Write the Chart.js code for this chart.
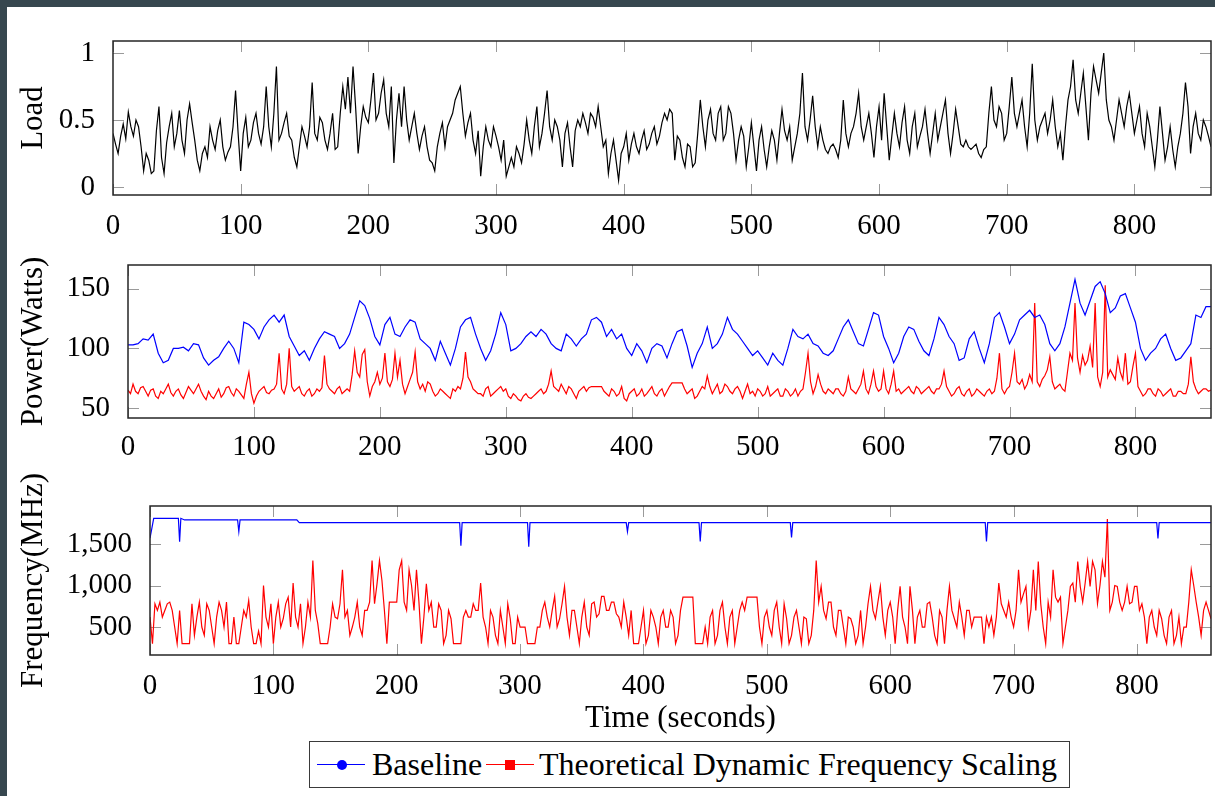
<!DOCTYPE html>
<html>
<head>
<meta charset="utf-8">
<title>Load, power and frequency</title>
<script src="https://cdn.jsdelivr.net/npm/chart.js@4.4.1/dist/chart.umd.min.js"></script>
<style>
    html, body {
        margin: 0;
        padding: 0;
    }

    body {
        width: 1215px;
        height: 796px;
        position: relative;
        overflow: hidden;
        background: #37474f;
        font-family: "Liberation Serif", "Times New Roman", serif;
    }

    #sheet {
        position: absolute;
        left: 7px;
        top: 7px;
        right: 0;
        bottom: 0;
        background: #ffffff;
    }

    canvas {
        position: absolute;
        left: 0;
    }

    #legend {
        position: absolute;
        left: 309px;
        top: 741px;
        width: 759px;
        height: 45px;
        border: 1.5px solid #3a3a3a;
        background: #ffffff;
        color: #000;
        font-size: 32px;
    }

    #legend .line {
        position: absolute;
        top: 22px;
        height: 1.4px;
    }

    #legend .dot {
        position: absolute;
        top: 18px;
        width: 10px;
        height: 10px;
        border-radius: 50%;
        background: #0000ff;
    }

    #legend .square {
        position: absolute;
        top: 18px;
        width: 10px;
        height: 10px;
        background: #ff0000;
    }

    #legend .label {
        position: absolute;
        top: 0;
        line-height: 45px;
        white-space: nowrap;
    }
</style>
</head>
<body>

<div id="sheet"></div>

<canvas id="loadChart" width="1215" height="244" style="top:1px;width:1215px;height:244px"></canvas>
<canvas id="powerChart" width="1215" height="243" style="top:225px;width:1215px;height:243px"></canvas>
<canvas id="frequencyChart" width="1215" height="274" style="top:466px;width:1215px;height:274px"></canvas>

<div id="legend">
    <span class="line" style="left:7px;width:48px;background:#0000ff"></span>
    <span class="dot" style="left:27px"></span>
    <span class="label" style="left:62px">Baseline</span>
    <span class="line" style="left:176px;width:48px;background:#ff0000"></span>
    <span class="square" style="left:195px"></span>
    <span class="label" style="left:229px">Theoretical Dynamic Frequency Scaling</span>
</div>

<script>
/* ==========================================
   Data
   noisy series: one sample every 2 s (0 - 860 s)
   baseline power: one sample every 4 s
========================================== */

const FINE_STEP = 2;
const COARSE_STEP = 4;

const X_TICKS = [0, 100, 200, 300, 400, 500, 600, 700, 800];
const LOAD_TICKS = [0, 0.5, 1];
const POWER_TICKS = [50, 100, 150];
const FREQUENCY_TICKS = [500, 1000, 1500];

const LOAD_VALUES = [
    0.40, 0.32, 0.25, 0.38, 0.47, 0.36, 0.56, 0.45, 0.38, 0.50, 0.45, 0.30, 0.12, 0.25, 0.20, 0.10, 0.12, 0.42, 0.60, 0.22,
    0.10, 0.33, 0.45, 0.55, 0.30, 0.40, 0.57, 0.35, 0.25, 0.50, 0.62, 0.48, 0.35, 0.20, 0.12, 0.25, 0.30, 0.22, 0.45, 0.35,
    0.28, 0.42, 0.50, 0.30, 0.20, 0.26, 0.30, 0.45, 0.72, 0.40, 0.12, 0.40, 0.52, 0.30, 0.35, 0.48, 0.55, 0.40, 0.32, 0.45,
    0.75, 0.45, 0.30, 0.55, 0.90, 0.35, 0.40, 0.48, 0.55, 0.38, 0.35, 0.22, 0.15, 0.30, 0.45, 0.38, 0.30, 0.45, 0.78, 0.40,
    0.35, 0.52, 0.48, 0.35, 0.28, 0.40, 0.55, 0.28, 0.30, 0.55, 0.75, 0.58, 0.82, 0.55, 0.90, 0.60, 0.25, 0.45, 0.60, 0.52,
    0.48, 0.65, 0.85, 0.50, 0.55, 0.70, 0.80, 0.55, 0.45, 0.75, 0.18, 0.50, 0.70, 0.45, 0.75, 0.50, 0.35, 0.45, 0.55, 0.40,
    0.28, 0.38, 0.45, 0.30, 0.20, 0.18, 0.12, 0.30, 0.40, 0.48, 0.30, 0.45, 0.50, 0.55, 0.65, 0.70, 0.75, 0.55, 0.38, 0.48,
    0.55, 0.35, 0.25, 0.42, 0.08, 0.30, 0.45, 0.35, 0.30, 0.45, 0.38, 0.30, 0.20, 0.35, 0.08, 0.15, 0.22, 0.15, 0.30, 0.25,
    0.18, 0.32, 0.50, 0.35, 0.25, 0.45, 0.60, 0.30, 0.40, 0.55, 0.72, 0.45, 0.35, 0.50, 0.45, 0.35, 0.15, 0.40, 0.48, 0.30,
    0.15, 0.42, 0.50, 0.45, 0.55, 0.48, 0.40, 0.55, 0.52, 0.45, 0.60, 0.45, 0.30, 0.35, 0.10, 0.25, 0.35, 0.20, 0.05, 0.25,
    0.30, 0.40, 0.20, 0.32, 0.40, 0.30, 0.25, 0.35, 0.42, 0.28, 0.32, 0.40, 0.45, 0.32, 0.38, 0.48, 0.55, 0.50, 0.58, 0.55,
    0.20, 0.38, 0.35, 0.22, 0.15, 0.32, 0.30, 0.15, 0.18, 0.40, 0.65, 0.45, 0.30, 0.50, 0.58, 0.40, 0.35, 0.55, 0.60, 0.35,
    0.40, 0.60, 0.55, 0.40, 0.20, 0.35, 0.45, 0.38, 0.15, 0.30, 0.48, 0.30, 0.12, 0.35, 0.45, 0.28, 0.15, 0.30, 0.42, 0.35,
    0.20, 0.40, 0.58, 0.42, 0.35, 0.45, 0.20, 0.30, 0.40, 0.55, 0.85, 0.45, 0.35, 0.50, 0.68, 0.45, 0.30, 0.45, 0.35, 0.28,
    0.25, 0.30, 0.32, 0.28, 0.22, 0.35, 0.65, 0.40, 0.30, 0.40, 0.45, 0.55, 0.70, 0.45, 0.35, 0.45, 0.55, 0.40, 0.22, 0.45,
    0.60, 0.35, 0.70, 0.45, 0.20, 0.38, 0.55, 0.40, 0.30, 0.48, 0.60, 0.35, 0.25, 0.45, 0.55, 0.30, 0.38, 0.45, 0.58, 0.40,
    0.25, 0.40, 0.55, 0.35, 0.45, 0.55, 0.65, 0.40, 0.25, 0.40, 0.58, 0.45, 0.32, 0.30, 0.35, 0.30, 0.28, 0.30, 0.32, 0.25,
    0.22, 0.28, 0.30, 0.55, 0.75, 0.50, 0.45, 0.60, 0.55, 0.35, 0.40, 0.60, 0.82, 0.55, 0.45, 0.55, 0.65, 0.45, 0.30, 0.55,
    0.92, 0.50, 0.35, 0.45, 0.50, 0.55, 0.40, 0.50, 0.65, 0.45, 0.30, 0.40, 0.20, 0.45, 0.65, 0.75, 0.95, 0.65, 0.55, 0.70,
    0.85, 0.60, 0.35, 0.70, 0.90, 0.80, 0.70, 0.85, 1.00, 0.65, 0.50, 0.45, 0.35, 0.50, 0.65, 0.55, 0.45, 0.60, 0.70, 0.55,
    0.40, 0.50, 0.60, 0.40, 0.30, 0.55, 0.45, 0.30, 0.15, 0.35, 0.60, 0.40, 0.20, 0.30, 0.45, 0.28, 0.15, 0.30, 0.40, 0.55,
    0.78, 0.60, 0.25, 0.45, 0.55, 0.40, 0.35, 0.50, 0.45, 0.38, 0.30
];

const POWER_BASELINE = [
    103, 103, 104, 108, 107, 112, 96, 88, 90, 100,
    100, 101, 98, 104, 103, 92, 86, 90, 93, 100,
    106, 100, 88, 122, 120, 116, 108, 118, 124, 128,
    122, 128, 110, 102, 94, 98, 90, 100, 108, 114,
    112, 110, 100, 104, 112, 126, 140, 136, 125, 110,
    103, 120, 126, 112, 110, 118, 124, 122, 108, 104,
    100, 90, 106, 96, 86, 100, 118, 124, 126, 112,
    100, 90, 98, 112, 130, 120, 98, 100, 104, 110,
    114, 110, 116, 112, 104, 100, 98, 112, 108, 102,
    108, 112, 124, 126, 122, 110, 116, 108, 112, 100,
    94, 104, 98, 88, 100, 104, 102, 92, 104, 114,
    116, 102, 84, 96, 104, 118, 100, 104, 112, 126,
    116, 112, 106, 100, 94, 98, 92, 86, 96, 90,
    86, 100, 116, 110, 108, 112, 104, 102, 96, 94,
    98, 108, 118, 124, 114, 104, 102, 116, 130, 128,
    110, 100, 88, 96, 110, 118, 116, 106, 98, 94,
    108, 126, 120, 110, 104, 90, 92, 108, 114, 100,
    88, 104, 126, 130, 118, 104, 112, 124, 128, 132,
    126, 128, 120, 104, 98, 104, 118, 138, 158, 138,
    128, 140, 152, 156, 146, 130, 134, 144, 146, 134,
    122, 100, 90, 96, 100, 108, 112, 100, 90, 92,
    98, 104, 128, 126, 135, 135
];

const POWER_DFS = [
    65, 62, 70, 64, 62, 67, 68, 64, 60, 65, 66, 60, 58, 64, 62, 66, 70, 63, 60, 64,
    66, 61, 58, 63, 68, 65, 62, 66, 70, 64, 60, 57, 64, 60, 58, 62, 66, 59, 62, 67,
    68, 63, 60, 66, 64, 61, 58, 70, 80, 62, 54, 60, 64, 66, 68, 63, 62, 65, 66, 70,
    96, 66, 62, 70, 100, 68, 64, 66, 68, 62, 60, 64, 66, 60, 62, 66, 64, 67, 94, 70,
    66, 64, 62, 66, 68, 62, 64, 66, 64, 78, 98, 80, 76, 95, 99, 72, 60, 68, 72, 80,
    70, 75, 96, 72, 68, 74, 96, 76, 90, 70, 62, 68, 74, 80, 97, 72, 66, 70, 64, 72,
    70, 64, 60, 62, 66, 64, 62, 60, 58, 66, 64, 68, 66, 75, 97, 76, 72, 66, 64, 62,
    62, 60, 66, 68, 60, 62, 64, 66, 68, 64, 66, 60, 58, 62, 60, 57, 56, 60, 62, 59,
    58, 60, 62, 64, 66, 62, 64, 70, 81, 68, 66, 64, 70, 66, 62, 68, 66, 62, 58, 64,
    66, 68, 64, 67, 68, 68, 68, 68, 68, 64, 62, 60, 66, 64, 60, 62, 68, 58, 56, 62,
    64, 66, 60, 62, 66, 60, 62, 65, 68, 62, 60, 64, 66, 60, 64, 68, 71, 71, 71, 71,
    71, 66, 62, 64, 66, 58, 60, 64, 68, 66, 77, 68, 62, 66, 70, 62, 64, 70, 68, 64,
    62, 66, 68, 64, 58, 64, 70, 62, 64, 60, 66, 64, 60, 62, 68, 60, 62, 64, 66, 60,
    60, 66, 64, 60, 62, 66, 60, 64, 66, 80, 96, 72, 62, 68, 78, 70, 64, 62, 66, 64,
    62, 66, 66, 62, 60, 64, 76, 66, 64, 62, 66, 70, 81, 66, 62, 70, 81, 68, 64, 66,
    81, 66, 62, 70, 81, 64, 66, 62, 64, 66, 68, 64, 62, 68, 66, 62, 64, 66, 68, 64,
    62, 66, 66, 70, 81, 68, 64, 60, 62, 66, 68, 62, 60, 64, 66, 60, 62, 66, 64, 62,
    60, 64, 66, 62, 64, 75, 96, 66, 62, 66, 68, 80, 96, 72, 70, 74, 66, 70, 78, 72,
    138, 72, 68, 74, 77, 82, 93, 72, 66, 68, 70, 66, 64, 80, 96, 90, 138, 92, 80, 94,
    86, 90, 102, 84, 138, 76, 68, 80, 153, 76, 82, 78, 74, 92, 80, 74, 96, 70, 72, 85,
    96, 68, 64, 60, 62, 66, 66, 62, 60, 66, 64, 60, 62, 64, 66, 60, 60, 64, 64, 62,
    62, 70, 93, 72, 66, 62, 64, 66, 66, 64, 65
];

const FREQUENCY_DFS = [
    620, 300, 780, 700, 800, 620, 700, 780, 800, 700, 500, 300, 700, 300, 300, 300, 300, 780, 400, 620,
    800, 500, 400, 780, 700, 500, 300, 620, 800, 700, 500, 800, 300, 300, 620, 300, 300, 500, 700, 620,
    820, 500, 300, 300, 450, 300, 1000, 620, 500, 780, 300, 620, 800, 500, 600, 780, 860, 500, 1030, 620,
    500, 780, 300, 500, 800, 620, 1300, 700, 540, 300, 300, 300, 300, 500, 780, 620, 600, 780, 1190, 620,
    700, 400, 500, 620, 800, 500, 400, 700, 700, 800, 1300, 780, 1020, 1300, 1060, 700, 300, 800, 800, 800,
    800, 1190, 1300, 800, 700, 1190, 1000, 700, 1190, 800, 300, 620, 1020, 700, 800, 500, 500, 780, 700, 300,
    400, 700, 600, 300, 300, 300, 300, 620, 700, 620, 620, 780, 700, 700, 1030, 620, 500, 300, 700, 620,
    400, 300, 700, 500, 300, 780, 600, 300, 300, 620, 500, 500, 500, 300, 300, 300, 300, 500, 500, 700,
    800, 620, 500, 700, 870, 500, 600, 780, 990, 620, 400, 700, 700, 500, 300, 620, 800, 500, 400, 780,
    800, 620, 660, 870, 870, 700, 700, 800, 800, 660, 620, 500, 800, 620, 400, 700, 300, 300, 300, 500,
    700, 300, 400, 700, 620, 500, 300, 620, 700, 500, 500, 700, 620, 300, 400, 700, 860, 860, 860, 860,
    860, 300, 300, 300, 300, 500, 300, 620, 700, 300, 400, 700, 800, 500, 300, 620, 700, 300, 500, 700,
    800, 700, 860, 860, 860, 860, 860, 500, 300, 620, 700, 500, 400, 700, 800, 500, 300, 780, 600, 300,
    400, 620, 700, 500, 300, 620, 600, 300, 400, 700, 1300, 800, 990, 700, 600, 800, 800, 500, 400, 700,
    700, 500, 300, 620, 600, 500, 300, 400, 700, 300, 500, 780, 990, 700, 600, 800, 990, 620, 400, 700,
    800, 620, 300, 700, 990, 620, 500, 300, 990, 700, 300, 620, 700, 500, 500, 780, 800, 620, 400, 300,
    700, 620, 300, 700, 990, 700, 600, 500, 800, 620, 400, 700, 700, 500, 620, 620, 620, 620, 300, 620,
    500, 620, 400, 620, 1030, 780, 700, 620, 800, 620, 500, 700, 1190, 800, 900, 990, 500, 700, 1190, 700,
    1290, 780, 500, 300, 800, 620, 1190, 860, 800, 860, 300, 500, 700, 990, 1030, 800, 1290, 990, 800, 1030,
    1290, 990, 1290, 1190, 780, 1000, 1290, 1100, 1800, 700, 800, 1000, 990, 800, 700, 800, 990, 780, 800, 990,
    990, 700, 780, 620, 300, 620, 700, 500, 400, 700, 600, 400, 300, 620, 700, 300, 400, 620, 300, 500,
    500, 800, 1190, 1000, 800, 620, 400, 700, 800, 700, 600
];

// Baseline frequency is flat with short dips, so it keeps its own time stamps
const FREQUENCY_BASE_TIMES = [
    0, 3, 23, 24, 25, 28, 71, 72, 73, 119, 121,
    251, 252, 253, 306, 307, 308, 386, 387, 388,
    445, 446, 447, 519, 520, 521, 677, 678, 679,
    816, 817, 818, 860
];

const FREQUENCY_BASE = [
    1570, 1810, 1810, 1528, 1810, 1790, 1790, 1650, 1790, 1790, 1758,
    1758, 1480, 1758, 1758, 1468, 1758, 1758, 1650, 1758,
    1758, 1530, 1758, 1758, 1578, 1758, 1758, 1530, 1758,
    1758, 1566, 1758, 1758
];

const FINE_TIMES = LOAD_VALUES.map(function (value, index) {
    return index * FINE_STEP;
});

const COARSE_TIMES = POWER_BASELINE.map(function (value, index) {
    return index * COARSE_STEP;
});

document.addEventListener('DOMContentLoaded', function () {

    const FONT_FAMILY = '"Liberation Serif", "Times New Roman", serif';
    const TICK_LENGTH = 11;

    function toPoints(times, values) {
        return values.map(function (value, index) {
            return { x: times[index], y: value };
        });
    }

    function lineDataset(label, points, color) {
        return {
            label: label,
            data: points,
            borderColor: color,
            borderWidth: 1.2,
            pointRadius: 0,
            tension: 0,
            fill: false
        };
    }

    /* ==========================================
       pgfplots-like frame: box with inner ticks
    ========================================== */

    const framePlugin = {

        id: 'frame',

        beforeDatasetsDraw: function (chart) {

            const ctx = chart.ctx;
            const area = chart.chartArea;
            const xScale = chart.scales.x;
            const yScale = chart.scales.y;

            ctx.save();
            ctx.strokeStyle = '#9a9a9a';
            ctx.lineWidth = 1;
            ctx.beginPath();

            xScale.ticks.forEach(function (tick) {
                const px = Math.round(xScale.getPixelForValue(tick.value)) + 0.5;
                ctx.moveTo(px, area.bottom);
                ctx.lineTo(px, area.bottom - TICK_LENGTH);
                ctx.moveTo(px, area.top);
                ctx.lineTo(px, area.top + TICK_LENGTH);
            });

            yScale.ticks.forEach(function (tick) {
                const py = Math.round(yScale.getPixelForValue(tick.value)) + 0.5;
                ctx.moveTo(area.left, py);
                ctx.lineTo(area.left + TICK_LENGTH, py);
                ctx.moveTo(area.right, py);
                ctx.lineTo(area.right - TICK_LENGTH, py);
            });

            ctx.stroke();
            ctx.restore();
        },

        afterDatasetsDraw: function (chart) {

            const ctx = chart.ctx;
            const area = chart.chartArea;

            ctx.save();
            ctx.strokeStyle = '#262626';
            ctx.lineWidth = 1.5;
            ctx.strokeRect(area.left, area.top, area.right - area.left, area.bottom - area.top);
            ctx.restore();
        }
    };

    /* ==========================================
       One panel = one chart
    ========================================== */

    function createPanel(canvasId, panel) {

        const canvas = document.getElementById(canvasId);

        if (!canvas) {
            return;
        }

        new Chart(canvas, {

            type: 'line',

            data: {
                datasets: panel.datasets
            },

            plugins: [framePlugin],

            options: {

                responsive: false,
                devicePixelRatio: 1,
                animation: false,
                locale: 'en-US',

                layout: {
                    padding: { left: 0, right: 4, top: 40, bottom: 0 }
                },

                plugins: {
                    legend: { display: false },
                    tooltip: { enabled: false }
                },

                scales: {

                    x: {
                        type: 'linear',
                        min: 0,
                        max: 860,
                        afterFit: function (scale) {
                            scale.height = panel.xAxisHeight;
                        },
                        afterBuildTicks: function (scale) {
                            scale.ticks = X_TICKS.map(function (value) {
                                return { value: value };
                            });
                        },
                        grid: { display: false },
                        border: { display: false },
                        ticks: {
                            autoSkip: false,
                            maxRotation: 0,
                            padding: panel.xTickPadding,
                            color: '#000',
                            font: { family: FONT_FAMILY, size: 29 }
                        },
                        title: {
                            display: Boolean(panel.xTitle),
                            text: panel.xTitle || '',
                            color: '#000',
                            padding: { top: 0, bottom: 3 },
                            font: { family: FONT_FAMILY, size: 31 }
                        }
                    },

                    y: {
                        min: panel.yMin,
                        max: panel.yMax,
                        afterFit: function (scale) {
                            scale.width = panel.yAxisWidth;
                        },
                        afterBuildTicks: function (scale) {
                            scale.ticks = panel.yTicks.map(function (value) {
                                return { value: value };
                            });
                        },
                        grid: { display: false },
                        border: { display: false },
                        ticks: {
                            padding: 10,
                            color: '#000',
                            font: { family: FONT_FAMILY, size: 29 },
                            callback: function (value) {
                                return Number(value).toLocaleString('en-US');
                            }
                        },
                        title: {
                            display: true,
                            text: panel.yTitle,
                            color: '#000',
                            padding: { top: 15, bottom: 0 },
                            font: { family: FONT_FAMILY, size: 31 }
                        }
                    }
                }
            }
        });
    }

    createPanel('loadChart', {
        yTitle: 'Load',
        yMin: -0.06,
        yMax: 1.09,
        yTicks: LOAD_TICKS,
        yAxisWidth: 113,
        xAxisHeight: 50,
        xTickPadding: 6,
        datasets: [
            lineDataset('Load', toPoints(FINE_TIMES, LOAD_VALUES), '#000000')
        ]
    });

    createPanel('powerChart', {
        yTitle: 'Power(Watts)',
        yMin: 41.6,
        yMax: 170,
        yTicks: POWER_TICKS,
        yAxisWidth: 128,
        xAxisHeight: 50,
        xTickPadding: 4,
        datasets: [
            lineDataset('Baseline', toPoints(COARSE_TIMES, POWER_BASELINE), '#0000ff'),
            lineDataset('Theoretical Dynamic Frequency Scaling', toPoints(FINE_TIMES, POWER_DFS), '#ff0000')
        ]
    });

    createPanel('frequencyChart', {
        yTitle: 'Frequency(MHz)',
        xTitle: 'Time (seconds)',
        yMin: 163,
        yMax: 1958,
        yTicks: FREQUENCY_TICKS,
        yAxisWidth: 150,
        xAxisHeight: 85,
        xTickPadding: 6,
        datasets: [
            lineDataset('Baseline', toPoints(FREQUENCY_BASE_TIMES, FREQUENCY_BASE), '#0000ff'),
            lineDataset('Theoretical Dynamic Frequency Scaling', toPoints(FINE_TIMES, FREQUENCY_DFS), '#ff0000')
        ]
    });

});
</script>
</body>
</html>
